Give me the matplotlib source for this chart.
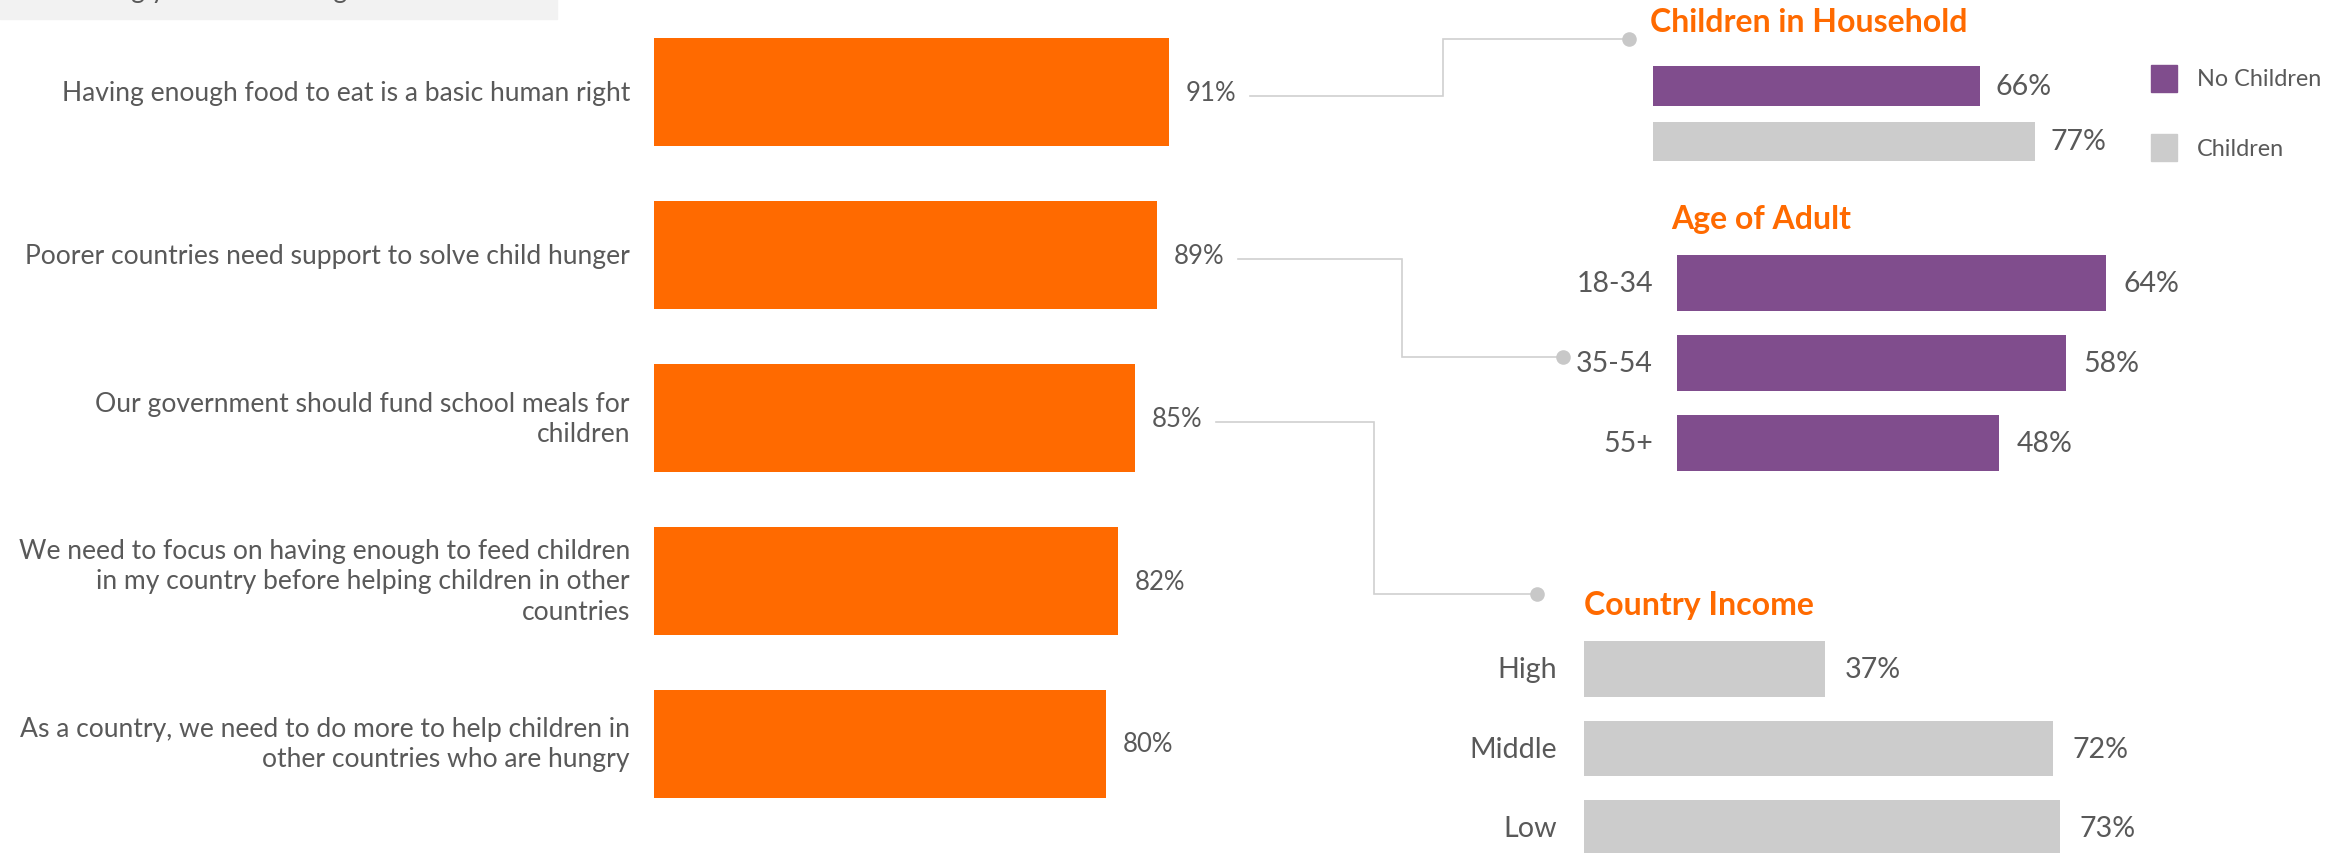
import matplotlib
matplotlib.use('Agg')
import matplotlib.pyplot as plt
from matplotlib.patches import Rectangle

plt.rcParams['font.family'] = ['Lato', 'DejaVu Sans']

# canvas size in pixels
W, H = 2351, 854
DPI = 100

# main chart: share agreeing with each statement
statements = [
    "Having enough food to eat is a basic human right",
    "Poorer countries need support to solve child hunger",
    "Our government should fund school meals for\nchildren",
    "We need to focus on having enough to feed children\nin my country before helping children in other\ncountries",
    "As a country, we need to do more to help children in\nother countries who are hungry",
]
agree = [91, 89, 85, 82, 80]

# breakdowns on the right
household_groups = ["No Children", "Children"]
household_vals = [66, 77]

age_groups = ["18-34", "35-54", "55+"]
age_vals = [64, 58, 48]

income_groups = ["High", "Middle", "Low"]
income_vals = [37, 72, 73]

ORANGE = '#ff6a00'
PURPLE = '#804d8d'
LIGHT = '#cccccc'
TEXT = '#595959'
LINE = '#d0d0d0'

fig = plt.figure(figsize=(W / DPI, H / DPI), dpi=DPI)


def px_axes(x0, y0, x1, y1):
    # box given in pixels, origin at top-left
    a = fig.add_axes([x0 / W, 1 - y1 / H, (x1 - x0) / W, (y1 - y0) / H])
    a.patch.set_alpha(0)
    for s in a.spines.values():
        s.set_visible(False)
    a.set_xticks([])
    return a


# overlay in pixel units for the decorations
bg = fig.add_axes([0, 0, 1, 1], zorder=0)
bg.set_xlim(0, W)
bg.set_ylim(H, 0)
bg.axis('off')

# grey header strip (its text is cut off at the top, as in the original)
bg.add_patch(Rectangle((0, 0), 557, 19.5, color='#f2f2f2', zorder=0))
bg.text(40, -2, "% Strongly / Somewhat agree", fontsize=19, color=TEXT, va='baseline')


def bar_panel(box, cats, vals, colors, scale, height, fs, lab_off, pad, show_ticks=True, lab_fs=None):
    a = px_axes(*box)
    n = len(cats)
    a.barh(range(n), vals, height=height, color=colors)
    a.set_xlim(0, (box[2] - box[0]) / scale)
    a.set_ylim(n - 0.5, -0.5)
    if show_ticks:
        a.set_yticks(range(n), cats, fontsize=fs, color=TEXT, va='center', linespacing=1.25)
        a.tick_params(axis='y', length=0, pad=pad)
    else:
        a.set_yticks([])
    labs = []
    for i, v in enumerate(vals):
        labs.append(a.annotate(f"{v}%", (v, i), xytext=(lab_off, 0), textcoords='offset points',
                               va='center', ha='left', fontsize=lab_fs or fs, color=TEXT))
    return a, labs


# main bars
ax, main_labels = bar_panel((654, 11.5, 1254, 826.5), statements, agree, ORANGE,
                            5.654, 0.663, 19.1, 12, 17.3, lab_fs=18.5)

# children in household
ax1, _ = bar_panel((1653, 59.25, 2100, 170.25), household_groups, household_vals,
                   [PURPLE, LIGHT], 4.96, 0.72, 20.6, 11, 0, show_ticks=False)

# age of adult
ax2, _ = bar_panel((1677, 244, 2150, 484), age_groups, age_vals, PURPLE,
                   6.7, 0.7, 20.5, 13, 17.3)

# country income
ax3, _ = bar_panel((1584, 630.25, 2100, 868.75), income_groups, income_vals, LIGHT,
                   6.52, 0.704, 20.6, 14, 19.4)

# panel titles
bg.text(1650, 22, "Children in Household", fontsize=23, fontweight='bold', color=ORANGE, va='center')
bg.text(1671, 219, "Age of Adult", fontsize=23, fontweight='bold', color=ORANGE, va='center')
bg.text(1584, 606, "Country Income", fontsize=23, fontweight='bold', color=ORANGE, va='center')

# legend for household panel
for (y, c, name) in [(66, PURPLE, household_groups[0]), (135, LIGHT, household_groups[1])]:
    bg.add_patch(Rectangle((2151, y), 26, 27, color=c))
    bg.text(2197, y + 14, name, fontsize=16.8, color=TEXT, va='center')

# elbow connectors from the first three statements to the panels
fig.canvas.draw()
renderer = fig.canvas.get_renderer()
targets = [(1443, 1629, 40), (1402, 1563, 358), (1374, 1537, 595)]
for i, (elbow_x, dot_x, dot_y) in enumerate(targets):
    ext = main_labels[i].get_window_extent(renderer)
    start_x = ext.x1 + 14
    start_y = H - (ext.y0 + ext.y1) / 2 + 4
    bg.plot([start_x, elbow_x, elbow_x, dot_x], [start_y, start_y, dot_y, dot_y],
            color=LINE, lw=1.2, solid_joinstyle='miter')
    bg.plot([dot_x], [dot_y], 'o', color='#c8c8c8', ms=10.5, mec='none')

fig.savefig('out.png', dpi=DPI)
